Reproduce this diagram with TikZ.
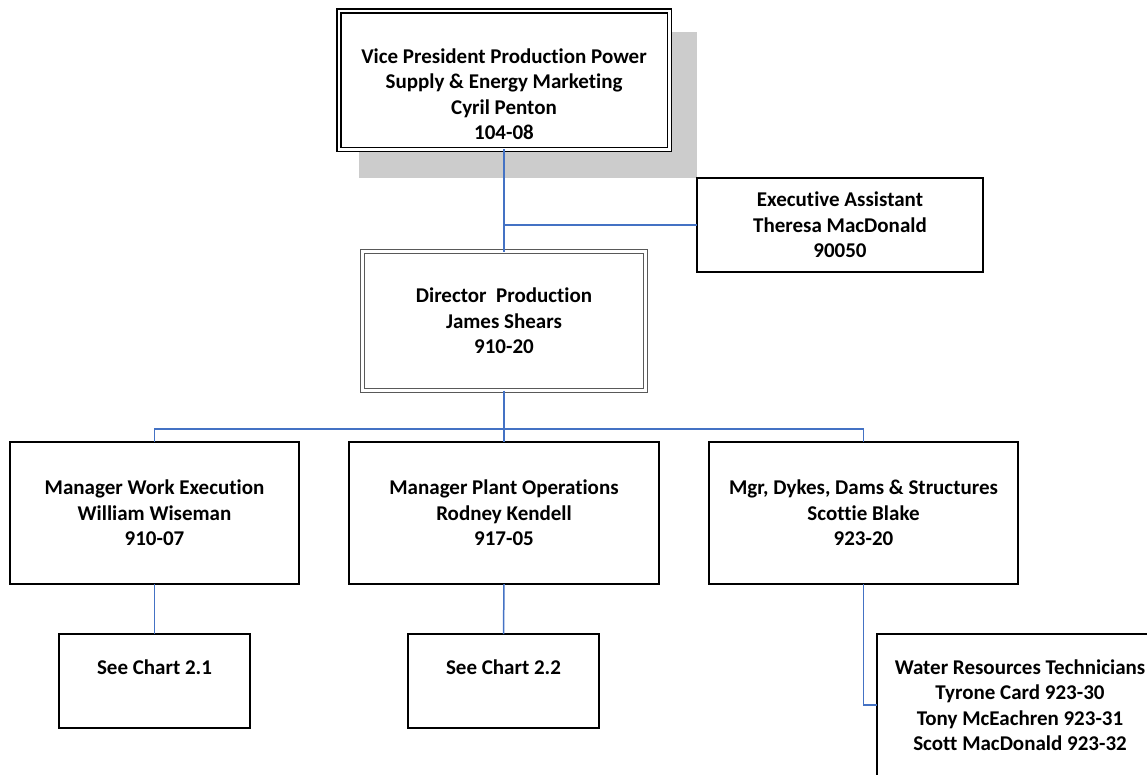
\documentclass[tikz,border=0pt]{standalone}
\usepackage{fontspec}
\setmainfont{Carlito}[Ligatures=NoCommon]
\usetikzlibrary{positioning, backgrounds}

\definecolor{linkblue}{HTML}{4472C4}
\definecolor{framegray}{HTML}{595959}

\begin{document}
\begin{tikzpicture}[x=1pt, y=-1pt]
    \fontsize{21pt}{25.5pt}\selectfont\bfseries
    % --- STYLES ---
    \tikzstyle{box} = [rectangle, draw=black, line width=2pt, fill=white, align=center, outer sep=0pt, inner sep=0pt]
    \tikzstyle{vpbox} = [box, double, line width=1.5pt, double distance=2.5pt, minimum width=330.5pt, minimum height=138.5pt, text height=120pt]
    \tikzstyle{dirbox} = [box, draw=framegray, double, line width=1pt, double distance=3pt, minimum width=283pt, minimum height=139pt]
    \tikzstyle{mgr} = [box, minimum height=142pt]
    \tikzstyle{chart} = [box, minimum width=191pt, minimum height=94pt, text depth=28pt]
    \tikzstyle{link} = [draw=linkblue, line width=1.5pt]

    \useasboundingbox (0,0) rectangle (1147,774);

    % --- NODES ---
    \node (vp)  [vpbox] at (504,80) {Vice President Production Power\\Supply \& Energy Marketing\\Cyril Penton\\104-08};
    \node (ea)  [box, minimum width=286pt, minimum height=94pt] at (840,225) {Executive Assistant\\Theresa MacDonald\\90050};
    \node (dir) [dirbox] at (504,321) {Director~ Production\\James Shears\\910-20};

    \node (work)  [mgr, minimum width=289pt] at (154.5,513) {Manager Work Execution\\William Wiseman\\910-07};
    \node (plant) [mgr, minimum width=310pt] at (504,513) {Manager Plant Operations\\Rodney Kendell\\917-05};
    \node (dams)  [mgr, minimum width=309pt] at (863.5,513) {Mgr, Dykes, Dams \& Structures\\Scottie Blake\\923-20};

    \node (chartA) [chart] at (154.5,681) {See Chart 2.1};
    \node (chartB) [chart] at (503.5,681) {See Chart 2.2};
    \node (water)  [box, minimum width=286pt, minimum height=143pt] at (1020,705) {Water Resources Technicians\\Tyrone Card 923-30\\Tony McEachren 923-31\\Scott MacDonald 923-32};

    \coordinate (bus) at (504,429);

    % shadow behind the top box
    \begin{scope}[on background layer]
        \fill[black!20] ([shift={(20,21.25)}]vp.north west) rectangle ([shift={(28,28.75)}]vp.south east);
    \end{scope}

    % --- CONNECTORS ---
    \draw[link] (vp.south) -- (dir.north);
    \draw[link] (ea.west) -- (ea.west -| vp.south);
    \draw[link] (dir.south) -- (plant.north);
    \draw[link] (bus) -| (work.north);
    \draw[link] (bus) -| (dams.north);
    \draw[link] (work.south) -- (chartA.north);
    \draw[link] (plant.south) -- (chartB.north);
    \draw[link] (dams.south) |- (water.west);

\end{tikzpicture}
\end{document}
